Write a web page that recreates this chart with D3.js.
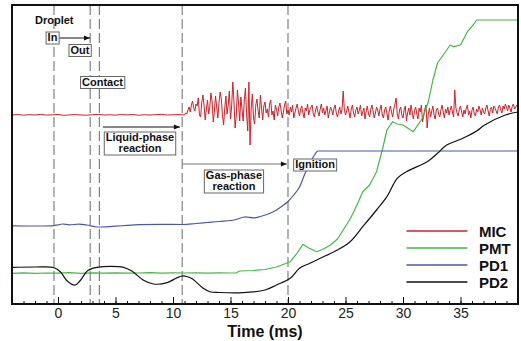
<!DOCTYPE html>
<html>
<head>
<meta charset="utf-8">
<script src="https://cdn.jsdelivr.net/npm/d3@7"></script>
<style>
body { margin: 0; background: #fff; }
svg { display: block; font-family: "Liberation Sans", Arial, sans-serif; }
</style>
</head>
<body>
<div id="chart"></div>
<script>
// signal values are in arbitrary units (a.u.)
// MIC, quiet part: -4 .. 10.5 ms every 0.5 ms
const micQuiet = [189, 189.5, 188.8, 189.3, 189, 189.6, 188.9, 189.2, 189.5, 188.7,
    189.1, 189.4, 189, 188.8, 189.3, 189.6, 189, 189.2, 188.9, 189.4,
    189.1, 189.5, 188.8, 189.2, 189, 189.3, 189.6, 189, 189.2, 189.4];
// MIC, noisy part: 11.0 .. 40.0 ms every 0.1 ms
const micNoisy = [
    189, 191, 190, 194, 197, 192, 199, 203, 196, 193,
    200, 198, 206, 189, 187, 201, 209, 199, 184, 195,
    204, 190, 197, 211, 203, 182, 193, 208, 197, 186,
    201, 212, 205, 189, 179, 196, 208, 190, 199, 213,
    185, 198, 222, 203, 176, 188, 214, 201, 183, 207,
    195, 183, 204, 216, 190, 173, 222, 159, 196, 210,
    186, 180, 199, 205, 193, 186, 209, 196, 184, 198,
    202, 191, 195, 187, 200, 204, 189, 193, 184, 199,
    195, 188, 197, 201, 194, 186, 192, 199, 203, 190,
    194, 189, 197, 192, 199, 186, 191, 196, 200, 193,
    188, 195, 198, 191, 186, 196, 193, 200, 189, 194,
    197, 199, 190, 187, 194, 198, 192, 188, 195, 200,
    191, 196, 189, 193, 198, 186, 192, 197, 194, 189,
    196, 199, 191, 187, 193, 197, 190, 195, 213, 194,
    189, 193, 198, 192, 186, 195, 199, 191, 187, 194,
    197, 190, 194, 199, 188, 192, 196, 185, 193, 198,
    190, 187, 195, 199, 193, 186, 191, 197, 194, 188,
    195, 199, 189, 186, 194, 197, 191, 184, 193, 198,
    192, 187, 195, 200, 206, 190, 185, 194, 197, 189,
    186, 194, 198, 183, 191, 196, 189, 199, 192, 185,
    193, 197, 190, 185, 196, 192, 199, 182, 188, 195,
    199, 176, 190, 196, 187, 193, 198, 189, 185, 194,
    196, 190, 187, 194, 199, 192, 186, 195, 191, 197,
    189, 194, 198, 192, 187, 214, 196, 191, 188, 195,
    198, 192, 187, 194, 190, 196, 199, 189, 193, 186,
    194, 197, 190, 188, 195, 192, 198, 194, 189, 196,
    192, 190, 196, 199, 193, 188, 195, 197, 191, 198,
    196, 193, 190, 197, 199, 194, 191, 198, 195, 200,
    197, 193, 199, 196, 192, 198, 200, 195, 197, 199,
    197];

const pmtTime = [-4, -3, -2, -1, 0, 1, 2, 3, 4, 5, 6, 7, 8, 9, 10, 11, 12, 13, 14, 15, 15.5, 15.8, 17, 18, 19, 20.2, 20.8, 21.3, 21.8, 22.5, 23, 23.7, 24.3, 24.8, 25.4, 26, 26.5, 27.1, 27.7, 28.2, 28.6, 29.1, 29.5, 30, 30.9, 31.7, 32.2, 32.6, 33, 33.5, 34.1, 34.4, 35, 35.6, 36.1, 36.4, 40];
const pmtValue = [30.7, 31.2, 30.6, 31, 30.8, 31.3, 30.7, 31.1, 30.9, 31.2, 30.8, 31, 31.3, 30.9, 31.1, 31, 31.2, 30.9, 31.1, 31, 31.2, 33, 33.5, 34.5, 37, 42.3, 51, 59.7, 56, 52.3, 54.5, 59, 65, 74, 85, 99, 112.3, 119, 132.3, 154, 174, 182.3, 180, 179, 172.3, 186, 202, 224, 241, 249, 259, 257.3, 259, 272.3, 279, 284, 284];

const pd1Time = [-4, -2, -0.5, 0, 0.4, 1, 1.8, 2.5, 3.4, 4.2, 5, 6, 7, 9, 10.8, 12, 13, 14, 15.5, 16.3, 17, 17.6, 18.4, 19, 19.5, 20, 20.5, 21, 21.5, 22, 22.3, 22.6, 30, 40];
const pd1Value = [78.2, 78, 78.2, 79.2, 80, 79.2, 79.8, 79, 77, 77.2, 77.8, 78.6, 79.4, 79.7, 79.5, 80.5, 81.5, 82.5, 84.5, 87.2, 86.2, 87.5, 90.5, 94, 98, 102.5, 109, 117, 131, 143, 149, 153, 153, 153];

const pd2Time = [-4, -2, -0.4, 0.2, 0.8, 1.5, 1.9, 2.6, 3.4, 5.7, 6.5, 7.4, 8.3, 9.5, 10.3, 10.8, 11.2, 11.7, 12.6, 13.2, 14, 16.1, 18, 19, 20.2, 21, 21.9, 22.8, 24.3, 25.4, 26.5, 27.7, 28.6, 29.5, 30.3, 32.1, 33, 33.8, 35.2, 36.4, 37.1, 38.9, 40];
const pd2Value = [36.7, 37, 36.5, 32.3, 23, 19, 23, 33.5, 36.7, 36.7, 32.3, 24, 20, 21.3, 26, 28, 27.5, 25, 16, 12.3, 11.5, 11.3, 14, 19, 25.7, 35.7, 40.7, 45.7, 54, 62.3, 77.3, 94, 107.3, 125.7, 132.3, 142.3, 150.7, 159, 165.7, 173, 179, 189, 192];

const seriesNames = ["MIC", "PMT", "PD1", "PD2"];
const seriesColors = ["#cc2229", "#45b845", "#4a58a8", "#111111"];

const eventTimes = [-0.35, 2.8, 3.6, 10.8, 20.0];
const majorTicks = [0, 5, 10, 15, 20, 25, 30, 35];

// annotation boxes: label lines, centre time, centre value
const boxNotes = [
    { lines: ["In"], t: -0.48, v: 266 },
    { lines: ["Out"], t: 1.91, v: 253.5 },
    { lines: ["Contact"], t: 3.87, v: 221.5 },
    { lines: ["Liquid-phase", "reaction"], t: 7.13, v: 160.5 },
    { lines: ["Gas-phase", "reaction"], t: 15.3, v: 122.5 },
    { lines: ["Ignition"], t: 22.35, v: 139 }
];
const arrowNotes = [
    { t0: 0.09, t1: 2.78, v: 266, color: "#111" },
    { t0: 3.9, t1: 10.6, v: 177, color: "#111" },
    { t0: 10.8, t1: 19.9, v: 140, color: "#777" }
];

const W = 521, H = 341;
const margin = { top: 5, left: 12, right: 3, bottom: 37 };

const x = d3.scaleLinear().domain([-4, 40]).range([margin.left, W - margin.right]);
const y = d3.scaleLinear().domain([0, 299]).range([H - margin.bottom, margin.top]);

const svg = d3.select("#chart").append("svg")
    .attr("width", W)
    .attr("height", H);

svg.append("defs").append("marker")
    .attr("id", "head")
    .attr("viewBox", "0 0 10 10")
    .attr("refX", 10).attr("refY", 5)
    .attr("markerWidth", 7).attr("markerHeight", 6)
    .attr("markerUnits", "userSpaceOnUse")
    .attr("orient", "auto")
    .append("path").attr("d", "M0,1L10,5L0,9Z").attr("fill", "#111");

// event lines
svg.selectAll(".event")
    .data(eventTimes)
    .enter()
    .append("line")
    .attr("class", "event")
    .attr("x1", d => x(d)).attr("x2", d => x(d))
    .attr("y1", y(299)).attr("y2", y(0))
    .attr("stroke", "#808080")
    .attr("stroke-width", 1.2)
    .attr("stroke-dasharray", "10,4");

const micData = micQuiet.map((v, i) => [-4 + i * 0.5, v])
    .concat(micNoisy.map((v, i) => [11 + i * 0.1, v]));
const zip = (ts, vs) => ts.map((t, i) => [t, vs[i]]);
const traces = [
    { key: "MIC", data: micData, curve: d3.curveLinear, w: 1 },
    { key: "PMT", data: zip(pmtTime, pmtValue), curve: d3.curveLinear, w: 1.2 },
    { key: "PD1", data: zip(pd1Time, pd1Value), curve: d3.curveMonotoneX, w: 1.2 },
    { key: "PD2", data: zip(pd2Time, pd2Value), curve: d3.curveCatmullRom, w: 1.2 }
];

traces.forEach(tr => {
    const line = d3.line().curve(tr.curve).x(d => x(d[0])).y(d => y(d[1]));
    svg.append("path")
        .datum(tr.data)
        .attr("fill", "none")
        .attr("stroke", seriesColors[seriesNames.indexOf(tr.key)])
        .attr("stroke-width", tr.w)
        .attr("stroke-linejoin", "round")
        .attr("d", line);
});

// arrows
svg.selectAll(".arrow")
    .data(arrowNotes)
    .enter()
    .append("line")
    .attr("class", "arrow")
    .attr("x1", d => x(d.t0)).attr("x2", d => x(d.t1))
    .attr("y1", d => y(d.v)).attr("y2", d => y(d.v))
    .attr("stroke", d => d.color)
    .attr("stroke-width", 1)
    .attr("marker-end", "url(#head)");

// Droplet title
svg.append("text")
    .attr("x", x(-2.0)).attr("y", y(280))
    .attr("font-size", 11).attr("font-weight", "bold")
    .attr("fill", "#111")
    .text("Droplet");

// boxed labels
const lineH = 11;
boxNotes.forEach(n => {
    const g = svg.append("g").attr("transform", `translate(${x(n.t)},${y(n.v)})`);
    const rect = g.append("rect");
    const txt = g.append("text")
        .attr("font-size", 11).attr("font-weight", "bold")
        .attr("fill", "#111")
        .attr("text-anchor", "middle");
    const top = -(n.lines.length * lineH) / 2;
    n.lines.forEach((s, i) => {
        txt.append("tspan")
            .attr("x", 0)
            .attr("y", top + (i + 1) * lineH - 2.2)
            .text(s);
    });
    const bb = txt.node().getBBox();
    rect.attr("x", bb.x - 1.5).attr("y", top - 0.5)
        .attr("width", bb.width + 3).attr("height", n.lines.length * lineH + 1)
        .attr("fill", "#fff").attr("stroke", "#666").attr("stroke-width", 1);
});

// axis ticks
const minorAxis = d3.axisBottom(x).tickValues(d3.range(-4, 41)).tickSize(-3).tickFormat("");
const majorAxis = d3.axisBottom(x).tickValues(majorTicks).tickSize(-7).tickPadding(4);

const gMinor = svg.append("g").attr("transform", `translate(0,${y(0)})`).call(minorAxis);
const gMajor = svg.append("g").attr("transform", `translate(0,${y(0)})`).call(majorAxis);
[gMinor, gMajor].forEach(g => {
    g.select(".domain").remove();
    g.selectAll("line").attr("stroke", "#111");
});
gMajor.selectAll("text")
    .attr("font-size", 14)
    .attr("font-family", "'Liberation Sans', Arial, sans-serif")
    .attr("fill", "#222");

// frame
svg.append("rect")
    .attr("x", x(-4)).attr("y", y(299))
    .attr("width", x(40) - x(-4)).attr("height", y(0) - y(299))
    .attr("fill", "none").attr("stroke", "#111").attr("stroke-width", 2);

svg.append("text")
    .attr("x", (x(-4) + x(40)) / 2).attr("y", 337)
    .attr("text-anchor", "middle")
    .attr("font-size", 16).attr("font-weight", "bold")
    .attr("fill", "#111")
    .text("Time (ms)");

// legend
const legendRows = [231, 248, 265, 282];
const legend = svg.append("g").attr("class", "legend");
seriesNames.forEach((name, i) => {
    legend.append("line")
        .attr("x1", x(30.3)).attr("x2", x(35.6))
        .attr("y1", legendRows[i]).attr("y2", legendRows[i])
        .attr("stroke", seriesColors[i]).attr("stroke-width", 1.3);
    legend.append("text")
        .attr("x", x(36.6)).attr("y", legendRows[i] + 5.5)
        .attr("font-size", 15).attr("font-weight", "bold")
        .attr("fill", "#111")
        .text(name);
});
</script>
</body>
</html>
